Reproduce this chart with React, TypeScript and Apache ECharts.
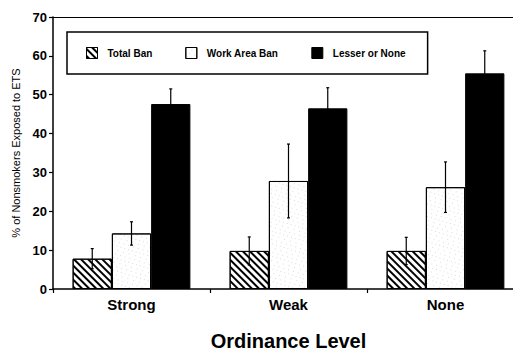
import React, { useEffect, useRef } from "react";
import * as echarts from "echarts";

const categories = ["Strong", "Weak", "None"];
const seriesNames = ["Total Ban", "Work Area Ban", "Lesser or None"];
const totalBan = [7.8, 9.8, 9.8];
const totalBanErr = [2.6, 3.6, 3.5];
const workArea = [14.3, 27.8, 26.2];
const workAreaErr = [3.0, 9.5, 6.5];
const lesser = [47.6, 46.5, 55.5];
const lesserErr = [3.9, 5.3, 5.8];
const yTicks = [0, 10, 20, 30, 40, 50, 60, 70];

const FONT = "'Liberation Sans', Arial, Helvetica, sans-serif";

export default function App() {
  const ref = useRef<HTMLDivElement>(null);
  useEffect(() => {
    document.body.style.margin = "0";
    const chart = echarts.init(ref.current!, null, { renderer: "svg" });
    const values = [totalBan, workArea, lesser];
    const errs = [totalBanErr, workAreaErr, lesserErr];
    const errData: number[][] = [];
    values.forEach((arr, s) => {
      arr.forEach((v, c) => {
        errData.push([c, s, v - errs[s][c], v + errs[s][c]]);
      });
    });
    const hatchDecal = {
      symbol: "rect",
      symbolSize: 1,
      color: "#000",
      dashArrayX: [1, 0],
      dashArrayY: [1.8, 2.3],
      rotation: Math.PI / 4,
    };
    const dotDecal = {
      symbol: "rect",
      symbolSize: 0.7,
      color: "rgba(0,0,0,0.4)",
      dashArrayX: [[1, 3], [1, 5], [1, 4]],
      dashArrayY: [1, 2.5],
      rotation: 0.3,
    };
    const barCommon = {
      type: "bar",
      barGap: "0%",
      barCategoryGap: "25%",
      xAxisIndex: 0,
    };
    chart.setOption({
      animation: false,
      textStyle: { fontFamily: FONT },
      grid: {
        left: 53,
        right: -11,
        top: 17,
        bottom: 63,
        containLabel: false,
        outerBoundsMode: "none",
      },
      legend: {
        left: 67,
        top: 32,
        orient: "horizontal",
        padding: [15, 22, 15, 19],
        itemGap: 33,
        itemWidth: 11,
        itemHeight: 11,
        icon: "rect",
        borderColor: "#000",
        borderWidth: 1.5,
        backgroundColor: "#fff",
        itemStyle: { borderColor: "#000", borderWidth: 1 },
        textStyle: {
          fontFamily: FONT,
          fontWeight: "bold",
          fontSize: 10,
          color: "#000",
          padding: [0, 0, 0, 5],
        },
        data: seriesNames,
      },
      xAxis: [
        {
          type: "category",
          data: categories,
          position: "bottom",
          name: "Ordinance Level",
          nameLocation: "middle",
          nameGap: 42,
          nameTextStyle: { fontFamily: FONT, fontWeight: "bold", fontSize: 20, color: "#000" },
          axisLine: { lineStyle: { color: "#000", width: 1.5 } },
          axisTick: { show: true, length: 4, lineStyle: { color: "#000", width: 1.2 } },
          axisLabel: { fontFamily: FONT, fontWeight: "bold", fontSize: 15, color: "#000", margin: 8 },
        },
        {
          type: "category",
          data: categories,
          position: "top",
          axisLine: { lineStyle: { color: "#000", width: 1.2 } },
          axisTick: { show: false },
          axisLabel: { show: false },
        },
      ],
      yAxis: {
        type: "value",
        min: 0,
        max: 70,
        interval: 10,
        name: "% of Nonsmokers Exposed to ETS",
        nameLocation: "middle",
        nameGap: 31,
        nameTextStyle: { fontFamily: FONT, fontSize: 11, color: "#000" },
        axisLine: { show: true, lineStyle: { color: "#000", width: 1.5 } },
        axisTick: { show: true, length: 4, lineStyle: { color: "#000", width: 1.2 } },
        splitLine: { show: false },
        axisLabel: {
          fontFamily: FONT,
          fontWeight: "bold",
          fontSize: 13,
          color: "#000",
          margin: 6,
          formatter: (v: number) => (yTicks.includes(v) ? String(v) : ""),
        },
      },
      series: [
        {
          ...barCommon,
          name: seriesNames[0],
          data: totalBan,
          itemStyle: { color: "#fff", borderColor: "#000", borderWidth: 1, decal: hatchDecal },
        },
        {
          ...barCommon,
          name: seriesNames[1],
          data: workArea,
          itemStyle: { color: "#fff", borderColor: "#000", borderWidth: 1, decal: dotDecal },
        },
        {
          ...barCommon,
          name: seriesNames[2],
          data: lesser,
          itemStyle: { color: "#000", borderColor: "#000", borderWidth: 1 },
        },
        {
          type: "custom",
          name: "err",
          data: errData,
          encode: { x: 0, y: [2, 3] },
          z: 10,
          renderItem: (params: any, api: any) => {
            const c = api.value(0);
            const s = api.value(1);
            const lo = api.value(2);
            const hi = api.value(3);
            const band = api.size([1, 0])[0];
            const bw = (band * 0.75) / 3;
            const cx = api.coord([c, 0])[0] + (s - 1) * bw;
            const yTop = api.coord([c, hi])[1];
            const yBot = api.coord([c, lo])[1];
            const st = { stroke: "#000", lineWidth: 1.2 };
            return {
              type: "group",
              children: [
                { type: "line", shape: { x1: cx, y1: yTop, x2: cx, y2: yBot }, style: st },
                { type: "line", shape: { x1: cx - 1.5, y1: yTop, x2: cx + 1.5, y2: yTop }, style: st },
                { type: "line", shape: { x1: cx - 1.5, y1: yBot, x2: cx + 1.5, y2: yBot }, style: st },
              ],
            };
          },
        },
      ],
    });
    return () => chart.dispose();
  }, []);
  return <div ref={ref} style={{ width: 513, height: 352 }} />;
}
